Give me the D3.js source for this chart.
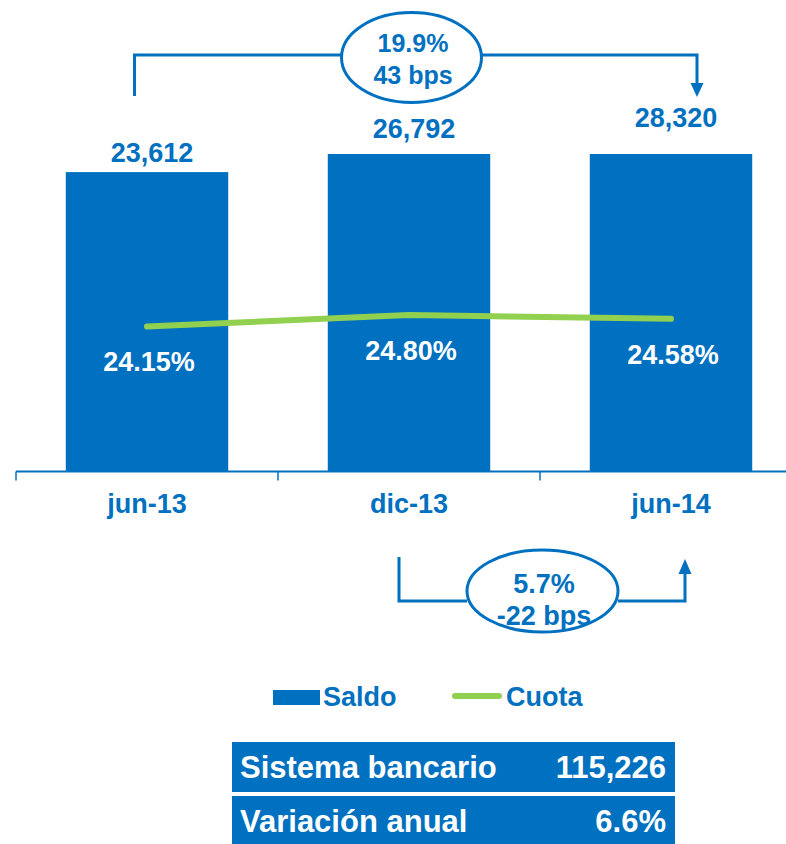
<!DOCTYPE html>
<html>
<head>
<meta charset="utf-8">
<script src="https://cdn.jsdelivr.net/npm/d3@7"></script>
<style>
  html, body { margin: 0; padding: 0; background: #fff; }
  svg { display: block; }
  text { font-family: "Liberation Sans", Arial, sans-serif; font-weight: bold; }
</style>
</head>
<body>
<script>
const categories = ["jun-13", "dic-13", "jun-14"];
const saldo = [23612, 26792, 28320];
const cuota = [24.15, 24.80, 24.58];
const topAnnotation = ["19.9%", "43 bps"];
const bottomAnnotation = ["5.7%", "-22 bps"];
const legendLabels = ["Saldo", "Cuota"];
const tableLabels = ["Sistema bancario", "Variación anual"];
const tableValues = ["115,226", "6.6%"];

const BLUE = "#0070C0", GREEN = "#92D050";
const W = 786, H = 844;
const svg = d3.select("body").append("svg").attr("width", W).attr("height", H);

const baseY = 471.5;
const x = d3.scaleBand().domain(categories).range([16, 802]).padding(0);
// value axis capped (bars above the cap are clipped at the plot top)
const y = d3.scaleLinear().domain([0, 25040]).range([baseY, 154]).clamp(true);
const labelY = d3.scaleLinear().domain([23612, 28320]).range([162, 127]);
const yc = d3.scaleLinear().domain([24.15, 24.80]).range([326.4, 315]);

const data = categories.map((c, i) => ({ c, v: saldo[i], q: cuota[i] }));
const bw = x.bandwidth() * 0.62;
const off = (x.bandwidth() - bw) / 2;

// bars
svg.selectAll("rect.bar").data(data).enter().append("rect")
  .attr("class", "bar")
  .attr("x", d => x(d.c) + off)
  .attr("y", d => y(d.v))
  .attr("width", bw)
  .attr("height", d => baseY - y(d.v))
  .attr("fill", BLUE);

// axis
const axis = d3.axisBottom(x).tickSize(8).tickSizeOuter(0).tickFormat("");
const gAxis = svg.append("g").attr("transform", `translate(0,${baseY})`).call(axis);
gAxis.select(".domain").remove();
gAxis.selectAll(".tick").remove();
svg.append("line").attr("x1", 16).attr("x2", W).attr("y1", baseY).attr("y2", baseY)
  .attr("stroke", BLUE).attr("stroke-width", 2);
// boundary ticks between categories
const tickXs = categories.map(c => x(c));
svg.selectAll("line.tk").data(tickXs).enter().append("line")
  .attr("x1", d => d).attr("x2", d => d)
  .attr("y1", baseY).attr("y2", baseY + 9)
  .attr("stroke", BLUE).attr("stroke-width", 1.5);

// category labels
svg.selectAll("text.cat").data(categories).enter().append("text")
  .attr("x", d => x(d) + x.bandwidth() / 2)
  .attr("y", 513)
  .attr("text-anchor", "middle")
  .attr("font-size", 27)
  .attr("fill", BLUE)
  .text(d => d);

// value labels
svg.selectAll("text.val").data(data).enter().append("text")
  .attr("x", d => x(d.c) + x.bandwidth() / 2 + 5)
  .attr("y", d => labelY(d.v))
  .attr("text-anchor", "middle")
  .attr("font-size", 27)
  .attr("fill", BLUE)
  .text(d => d3.format(",")(d.v));

// cuota line
const line = d3.line().x(d => x(d.c) + x.bandwidth() / 2).y(d => yc(d.q));
svg.append("path").datum(data).attr("d", line)
  .attr("fill", "none").attr("stroke", GREEN).attr("stroke-width", 6)
  .attr("stroke-linecap", "round").attr("stroke-linejoin", "round");

// cuota labels
svg.selectAll("text.pct").data(data).enter().append("text")
  .attr("x", d => x(d.c) + x.bandwidth() / 2 + 2)
  .attr("y", d => yc(d.q) + 45)
  .attr("text-anchor", "middle")
  .attr("font-size", 27)
  .attr("fill", "#fff")
  .text(d => d3.format(".2f")(d.q) + "%");

// top bracket annotation
const tb = svg.append("g");
tb.append("path")
  .attr("d", "M134.5,96 V55 H342 M482,55 H697 V86")
  .attr("fill", "none").attr("stroke", BLUE).attr("stroke-width", 3);
tb.append("path").attr("d", "M690.5,83 L703.5,83 L697,97 Z").attr("fill", BLUE);
tb.append("ellipse").attr("cx", 411.5).attr("cy", 57.5).attr("rx", 70).attr("ry", 45)
  .attr("fill", "#fff").attr("stroke", BLUE).attr("stroke-width", 3);
tb.selectAll("text").data(topAnnotation).enter().append("text")
  .attr("x", 413).attr("y", (d, i) => 52 + i * 32)
  .attr("text-anchor", "middle").attr("font-size", 25).attr("fill", BLUE)
  .text(d => d);

// bottom bracket annotation
const bb = svg.append("g");
bb.append("path")
  .attr("d", "M399,557 V601 H467 M618,601 H685 V570")
  .attr("fill", "none").attr("stroke", BLUE).attr("stroke-width", 3);
bb.append("path").attr("d", "M678.5,574 L691.5,574 L685,559 Z").attr("fill", BLUE);
bb.append("ellipse").attr("cx", 542.5).attr("cy", 591).attr("rx", 75.5).attr("ry", 41)
  .attr("fill", "#fff").attr("stroke", BLUE).attr("stroke-width", 3);
bb.selectAll("text").data(bottomAnnotation).enter().append("text")
  .attr("x", 544).attr("y", (d, i) => 593 + i * 32)
  .attr("text-anchor", "middle").attr("font-size", 27).attr("fill", BLUE)
  .text(d => d);

// legend
const lg = svg.append("g");
lg.append("rect").attr("x", 273).attr("y", 690).attr("width", 47).attr("height", 15).attr("fill", BLUE);
lg.append("line").attr("x1", 455).attr("x2", 499).attr("y1", 696).attr("y2", 696)
  .attr("stroke", GREEN).attr("stroke-width", 6).attr("stroke-linecap", "round");
lg.selectAll("text").data(legendLabels).enter().append("text")
  .attr("x", (d, i) => i === 0 ? 323 : 506)
  .attr("y", 706)
  .attr("font-size", 27).attr("fill", BLUE)
  .text(d => d);

// table
const rowsY = [742, 796];
const tg = svg.append("g");
tg.selectAll("rect").data(tableLabels).enter().append("rect")
  .attr("x", 232).attr("y", (d, i) => rowsY[i]).attr("width", 443).attr("height", (d, i) => i === 0 ? 50 : 52)
  .attr("fill", BLUE);
tg.selectAll("text.tl").data(tableLabels).enter().append("text")
  .attr("x", 240).attr("y", (d, i) => rowsY[i] + 36)
  .attr("font-size", 31).attr("fill", "#fff")
  .text(d => d);
tg.selectAll("text.tv").data(tableValues).enter().append("text")
  .attr("x", 666).attr("y", (d, i) => rowsY[i] + 36)
  .attr("text-anchor", "end")
  .attr("font-size", 31).attr("fill", "#fff")
  .text(d => d);
</script>
</body>
</html>
